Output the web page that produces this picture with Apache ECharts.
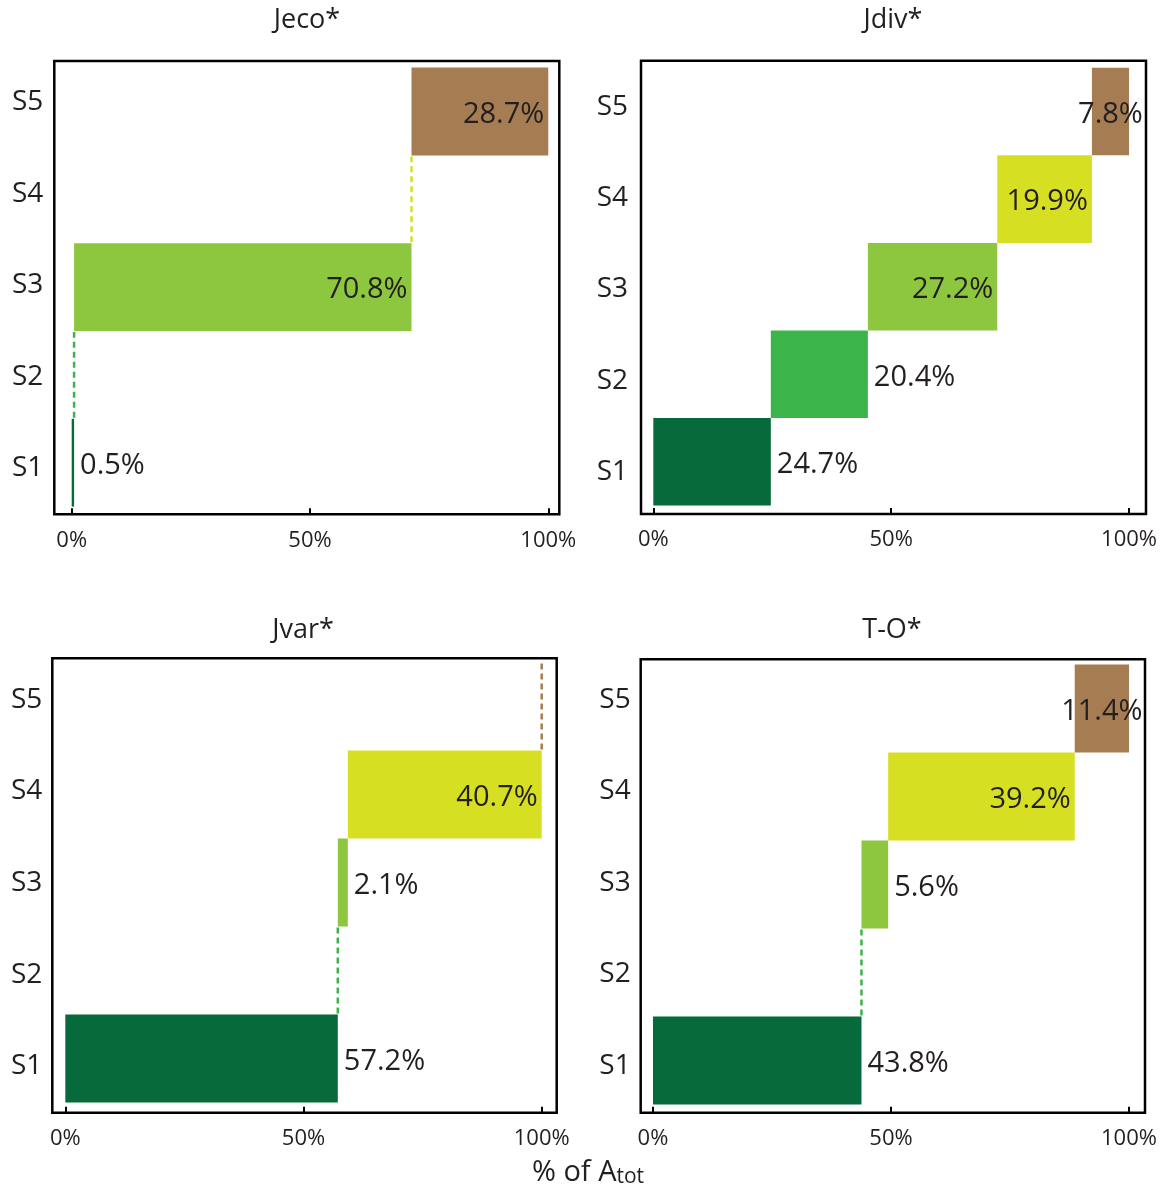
<!DOCTYPE html>
<html>
<head>
<meta charset="utf-8">
<title>Share of Atot by stage</title>
<script src="https://cdn.jsdelivr.net/npm/echarts@6/dist/echarts.min.js"></script>
<style>
  html, body { margin: 0; padding: 0; background: #fff; }
  #chart { width: 1172px; height: 1187px; }
</style>
</head>
<body>
<div id="chart"></div>
<script>
// Stage categories (bottom to top) and the share of Atot each stage holds, per index.
const categories = ['S1', 'S2', 'S3', 'S4', 'S5'];
const panelTitles = ['Jeco*', 'Jdiv*', 'Jvar*', 'T-O*'];
const jeco = [0.5, 0, 70.8, 0, 28.7];
const jdiv = [24.7, 20.4, 27.2, 19.9, 7.8];
const jvar = [57.2, 0, 2.1, 40.7, 0];
const tO = [43.8, 0, 5.6, 39.2, 11.4];
const xTicks = [0, 50, 100];
const axisTitle = '% of A';
const axisTitleSub = 'tot';

const panelValues = [jeco, jdiv, jvar, tO];
const stageColors = ['#076a3a', '#3bb54a', '#8dc63f', '#d7df23', '#a67c52'];

const FONT = "'Open Sans', 'Noto Sans', sans-serif";
const INK = '#231f20';
const VALUE_FONT_SIZE = 29;

// Frame of each panel and the axis extents that place the 0–100% scale inside it.
const panels = [
  { left: 54.3, top: 61.0, width: 505.0, height: 453.3, xMin: -3.65, xMax: 102.31,
    yMin: -0.588, yMax: 4.575, lMin: -0.503, lMax: 4.448, titleX: 307, titleY: 20, labelMargin: 11 },
  { left: 641.0, top: 60.7, width: 505.0, height: 453.3, xMin: -2.59, xMax: 103.57,
    yMin: -0.596, yMax: 4.581, lMin: -0.46, lMax: 4.504, titleX: 893, titleY: 20, labelMargin: 13 },
  { left: 52.3, top: 658.3, width: 504.4, height: 454.4, xMin: -2.73, xMax: 103.15,
    yMin: -0.616, yMax: 4.548, lMin: -0.51, lMax: 4.456, titleX: 303, titleY: 630, labelMargin: 10 },
  { left: 640.7, top: 659.3, width: 504.3, height: 453.4, xMin: -2.58, xMax: 103.36,
    yMin: -0.593, yMax: 4.558, lMin: -0.51, lMax: 4.445, titleX: 892, titleY: 630, labelMargin: 10 }
];

// Text measuring for label placement.
const measureCtx = document.createElement('canvas').getContext('2d');
function textWidth(str) {
  measureCtx.font = VALUE_FONT_SIZE + 'px ' + FONT;
  return measureCtx.measureText(str).width;
}

// Cumulative segments: each stage starts where the previous one ended.
function segments(values) {
  let acc = 0;
  return values.map((v, i) => {
    const start = acc;
    acc = +(acc + v).toFixed(4);
    return [i, start, acc, v];
  });
}

function renderSegment(params, api) {
  const i = api.value(0);
  const s = api.value(1);
  const e = api.value(2);
  const v = api.value(3);
  const color = stageColors[i];
  const lo = api.coord([s, i - 0.5]);
  const hi = api.coord([e, i + 0.5]);

  if (v === 0) {
    // Empty stage: dashed connector across its band.
    return {
      type: 'line',
      shape: { x1: lo[0], y1: lo[1] - 1, x2: lo[0], y2: hi[1] + 1 },
      style: { stroke: color, lineWidth: 2.5, lineDash: [6, 4] }
    };
  }

  const x0 = lo[0];
  const x1 = hi[0];
  const yTop = hi[1];
  const yBot = lo[1];
  const w = x1 - x0;
  const cy = (yTop + yBot) / 2 + 3;
  const text = v.toFixed(1) + '%';
  const tw = textWidth(text);
  const fits = w >= tw + 8;

  let tx, align;
  if (i <= 1 || (i === 2 && !fits)) {
    tx = x1 + 6; align = 'left';
  } else if (fits) {
    tx = x1 - 4; align = 'right';
  } else {
    tx = (x0 + x1) / 2; align = 'center';
  }

  return {
    type: 'group',
    children: [
      {
        type: 'rect',
        shape: { x: x0, y: yTop, width: Math.max(w, 1), height: yBot - yTop },
        style: { fill: color }
      },
      {
        type: 'text',
        z2: 10,
        style: {
          text: text, x: tx, y: cy, align: align, verticalAlign: 'middle',
          font: VALUE_FONT_SIZE + 'px ' + FONT, fill: INK
        }
      }
    ]
  };
}

const grids = [], xAxes = [], yAxes = [], series = [], graphics = [];

panels.forEach((p, k) => {
  grids.push({
    left: p.left, top: p.top, width: p.width, height: p.height,
    show: true, borderColor: '#000', borderWidth: 2.5, backgroundColor: 'transparent',
    containLabel: false, outerBoundsMode: 'none'
  });
  xAxes.push({
    gridIndex: k, type: 'value', min: p.xMin, max: p.xMax, position: 'bottom',
    axisLine: { show: false, onZero: false },
    splitLine: { show: false },
    axisTick: { show: true, inside: true, length: 6, customValues: xTicks,
      lineStyle: { color: '#000', width: 2 } },
    axisLabel: { customValues: xTicks, formatter: v => v + '%',
      fontSize: 22, fontFamily: FONT, color: INK, margin: 15 }
  });
  // Hidden axis that positions the bands.
  yAxes.push({ gridIndex: k, type: 'value', min: p.yMin, max: p.yMax, show: false });
  // Axis that carries the stage names.
  yAxes.push({
    gridIndex: k, type: 'value', min: p.lMin, max: p.lMax, position: 'left',
    axisLine: { show: false, onZero: false }, axisTick: { show: false }, splitLine: { show: false },
    axisLabel: { customValues: [0, 1, 2, 3, 4],
      formatter: v => categories[Math.round(v)],
      fontSize: 28, fontFamily: FONT, color: INK, margin: p.labelMargin }
  });
  series.push({
    type: 'custom',
    name: panelTitles[k],
    xAxisIndex: k,
    yAxisIndex: 2 * k,
    clip: false,
    renderItem: renderSegment,
    encode: { x: [1, 2], y: 0 },
    data: segments(panelValues[k])
  });
  graphics.push({
    type: 'text', x: p.titleX, y: p.titleY,
    style: { text: panelTitles[k], align: 'center', verticalAlign: 'middle',
      font: '27px ' + FONT, fill: INK }
  });
});

// Shared horizontal axis title with subscript.
graphics.push({
  type: 'text', x: 588, y: 1173,
  style: {
    text: '{a|' + axisTitle + '}{b|' + axisTitleSub + '}',
    align: 'center', verticalAlign: 'middle',
    rich: {
      a: { fontSize: 29, fontFamily: FONT, fontWeight: 'normal', fill: INK, lineHeight: 29, verticalAlign: 'bottom' },
      b: { fontSize: 21, fontFamily: FONT, fontWeight: 'normal', fill: INK, lineHeight: 21, verticalAlign: 'bottom' }
    }
  }
});

const chart = echarts.init(document.getElementById('chart'), null, { renderer: 'canvas' });
chart.setOption({
  backgroundColor: '#fff',
  animation: false,
  grid: grids,
  xAxis: xAxes,
  yAxis: yAxes,
  series: series,
  graphic: graphics
});
</script>
</body>
</html>
